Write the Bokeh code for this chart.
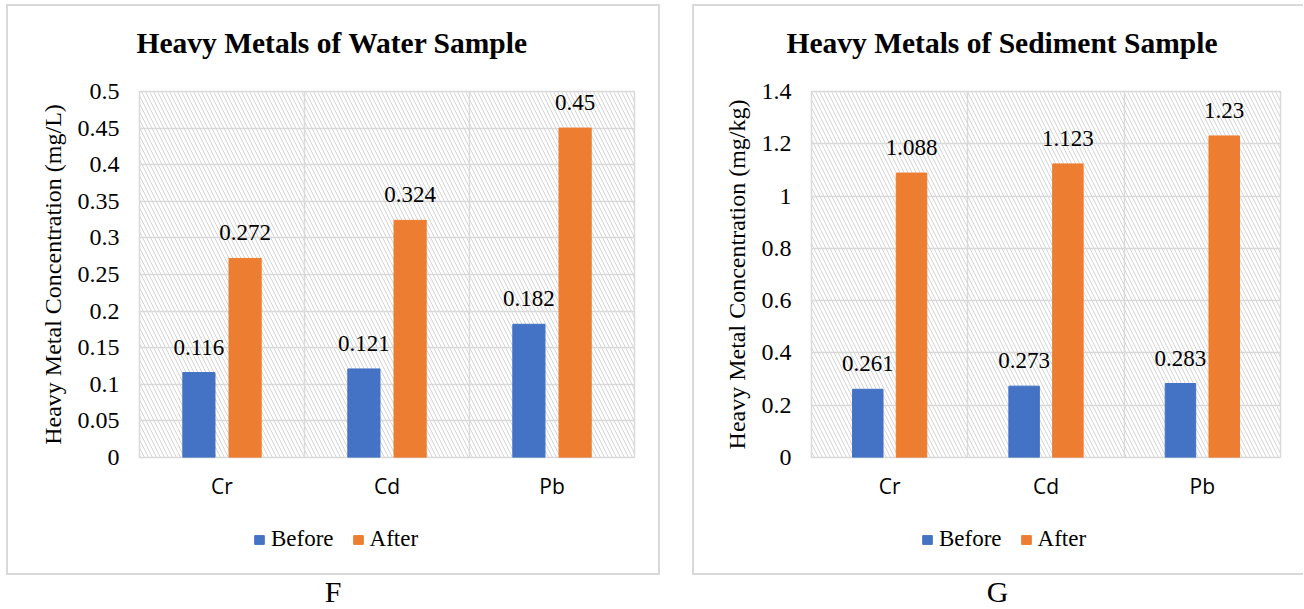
from bokeh.plotting import figure
from bokeh.models import (Range1d, FixedTicker, NumeralTickFormatter, BoxAnnotation,
                          ColumnDataSource, LabelSet, Legend, LegendItem, Div, Title)
from bokeh.layouts import row, column
from bokeh.transform import dodge
from bokeh.embed import file_html
from bokeh.resources import INLINE

metals = ["Cr", "Cd", "Pb"]
series_names = ["Before", "After"]
water_before = [0.116, 0.121, 0.182]
water_after = [0.272, 0.324, 0.45]
sediment_before = [0.261, 0.273, 0.283]
sediment_after = [1.088, 1.123, 1.23]
water_ticks = [0, 0.05, 0.1, 0.15, 0.2, 0.25, 0.3, 0.35, 0.4, 0.45, 0.5]
sediment_ticks = [0, 0.2, 0.4, 0.6, 0.8, 1.0, 1.2, 1.4]
panel_letters = ["F", "G"]

BLUE = "#4472C4"
ORANGE = "#ED7D31"
GRID = "#D9D9D9"
SERIF = "Liberation Serif"
BORDER = "2px solid #D9D9D9"


def make_panel(title, ylabel, before, after, ticks, fmt, min_left, frame_w, min_right,
               title_offset, legend_x, left_margin, right_border):
    n = len(metals)
    centers = [i + 0.5 for i in range(n)]
    src = ColumnDataSource(dict(
        x=centers, before=before, after=after,
        before_txt=[str(v) for v in before], after_txt=[str(v) for v in after],
    ))
    top_style = {"border-top": BORDER, "border-left": BORDER}
    bot_style = {"border-bottom": BORDER, "border-left": BORDER}
    n_side = 1
    if right_border:
        top_style["border-right"] = BORDER
        bot_style["border-right"] = BORDER
        n_side = 2

    p = figure(frame_width=frame_w, frame_height=364,
               min_border_left=min_left, min_border_right=min_right,
               min_border_top=85, min_border_bottom=60,
               x_range=Range1d(0, n), y_range=Range1d(ticks[0], ticks[-1]),
               output_backend="svg", toolbar_location=None, title=title,
               margin=(4, 0, 0, left_margin), styles=top_style)
    p.background_fill_color = "white"
    p.border_fill_color = "white"
    p.outline_line_color = GRID
    p.outline_line_width = 1.5

    # hatched plot area
    hatch = BoxAnnotation(fill_alpha=0, line_alpha=0, hatch_pattern="\\",
                          hatch_color="#D4D4D4", hatch_scale=8, hatch_weight=1,
                          level="image")
    p.add_layout(hatch)

    p.xgrid.ticker = FixedTicker(ticks=list(range(n + 1)))
    p.ygrid.ticker = FixedTicker(ticks=ticks)
    for g in (p.xgrid, p.ygrid):
        g.grid_line_color = GRID
        g.grid_line_width = 1.5

    p.vbar(x=dodge("x", -0.14, range=p.x_range), top="before", width=0.195,
           source=src, color=BLUE)
    p.vbar(x=dodge("x", 0.14, range=p.x_range), top="after", width=0.195,
           source=src, color=ORANGE)

    for col, off in (("before", -0.14), ("after", 0.14)):
        lbl = LabelSet(x=dodge("x", off, range=p.x_range), y=col, text=col + "_txt",
                       source=src, text_align="center", text_baseline="alphabetic",
                       y_offset=18, text_font=SERIF, text_font_size="23px",
                       text_color="#000000")
        p.add_layout(lbl)

    # axes
    p.xaxis.ticker = FixedTicker(ticks=centers)
    p.xaxis.major_label_overrides = {c: m for c, m in zip(centers, metals)}
    p.xaxis.major_label_text_font = "Open Sans"
    p.xaxis.major_label_text_font_size = "21px"
    p.xaxis.major_label_text_color = "#000000"
    p.xaxis.major_label_standoff = 14
    p.xaxis.axis_line_color = None
    p.xaxis.major_tick_line_color = None
    p.xaxis.minor_tick_line_color = None
    p.xaxis.major_tick_out = 0

    p.yaxis.ticker = FixedTicker(ticks=ticks)
    p.yaxis.formatter = NumeralTickFormatter(format=fmt)
    p.yaxis.major_label_text_font = SERIF
    p.yaxis.major_label_text_font_size = "24px"
    p.yaxis.major_label_text_color = "#000000"
    p.yaxis.major_label_standoff = 20
    p.yaxis.axis_line_color = None
    p.yaxis.major_tick_line_color = None
    p.yaxis.minor_tick_line_color = None
    p.yaxis.major_tick_out = 0
    p.yaxis.axis_label = ylabel
    p.yaxis.axis_label_text_font = SERIF
    p.yaxis.axis_label_text_font_size = "24px"
    p.yaxis.axis_label_text_font_style = "normal"
    p.yaxis.axis_label_text_color = "#000000"
    p.yaxis.axis_label_standoff = 9

    # spacer between title and frame, then the title
    p.add_layout(Title(text=" ", text_font_size="1px", standoff=8), "above")
    p.title.text_font = SERIF
    p.title.text_font_style = "bold"
    p.title.text_font_size = "29.5px"
    p.title.text_color = "#000000"
    p.title.align = "left"
    p.title.offset = title_offset
    p.title.vertical_align = "top"
    p.title.standoff = 40

    # legend strip at the bottom of the chart box
    total_w = min_left + frame_w + min_right + 2 * n_side
    lf = figure(width=total_w, height=60, min_border=0,
                x_range=Range1d(0, n), y_range=Range1d(10, 11),
                x_axis_type=None, y_axis_type=None,
                output_backend="svg", toolbar_location=None,
                margin=(0, 0, 0, left_margin), styles=bot_style)
    lf.outline_line_color = None
    lf.background_fill_color = "white"
    lf.border_fill_color = "white"
    rb = lf.vbar(x=dodge("x", -0.14, range=lf.x_range), top="before", width=0.195,
                 source=src, color=BLUE)
    ra = lf.vbar(x=dodge("x", 0.14, range=lf.x_range), top="after", width=0.195,
                 source=src, color=ORANGE)
    legend = Legend(items=[LegendItem(label=series_names[0], renderers=[rb]),
                           LegendItem(label=series_names[1], renderers=[ra])],
                    orientation="horizontal", location=(legend_x, 23),
                    label_text_font=SERIF, label_text_font_size="23px",
                    label_text_color="#000000", glyph_width=12, glyph_height=11,
                    label_standoff=6, spacing=18, padding=0, margin=0,
                    border_line_color=None, background_fill_alpha=0)
    lf.add_layout(legend, "center")
    return p, lf


p1, l1 = make_panel("Heavy Metals of Water Sample", "Heavy Metal Concentration (mg/L)",
                    water_before, water_after, water_ticks, "0.[00]",
                    131, 491, 28, -3, 114, 6, True)
p2, l2 = make_panel("Heavy Metals of Sediment Sample", "Heavy Metal Concentration (mg/kg)",
                    sediment_before, sediment_after, sediment_ticks, "0.[0]",
                    117, 467, 25, -25, 110, 32, False)

div_style = {"text-align": "center", "font-family": SERIF, "font-size": "30px",
             "color": "#000000", "line-height": "34px"}
d1 = Div(text=panel_letters[0], width=654, height=30, margin=(0, 0, 0, 6), styles=div_style)
d2 = Div(text=panel_letters[1], width=611, height=30, margin=(0, 0, 0, 32), styles=div_style)

layout = row(column(p1, l1, d1), column(p2, l2, d2))
open("out.html", "w").write(file_html(layout, INLINE))
